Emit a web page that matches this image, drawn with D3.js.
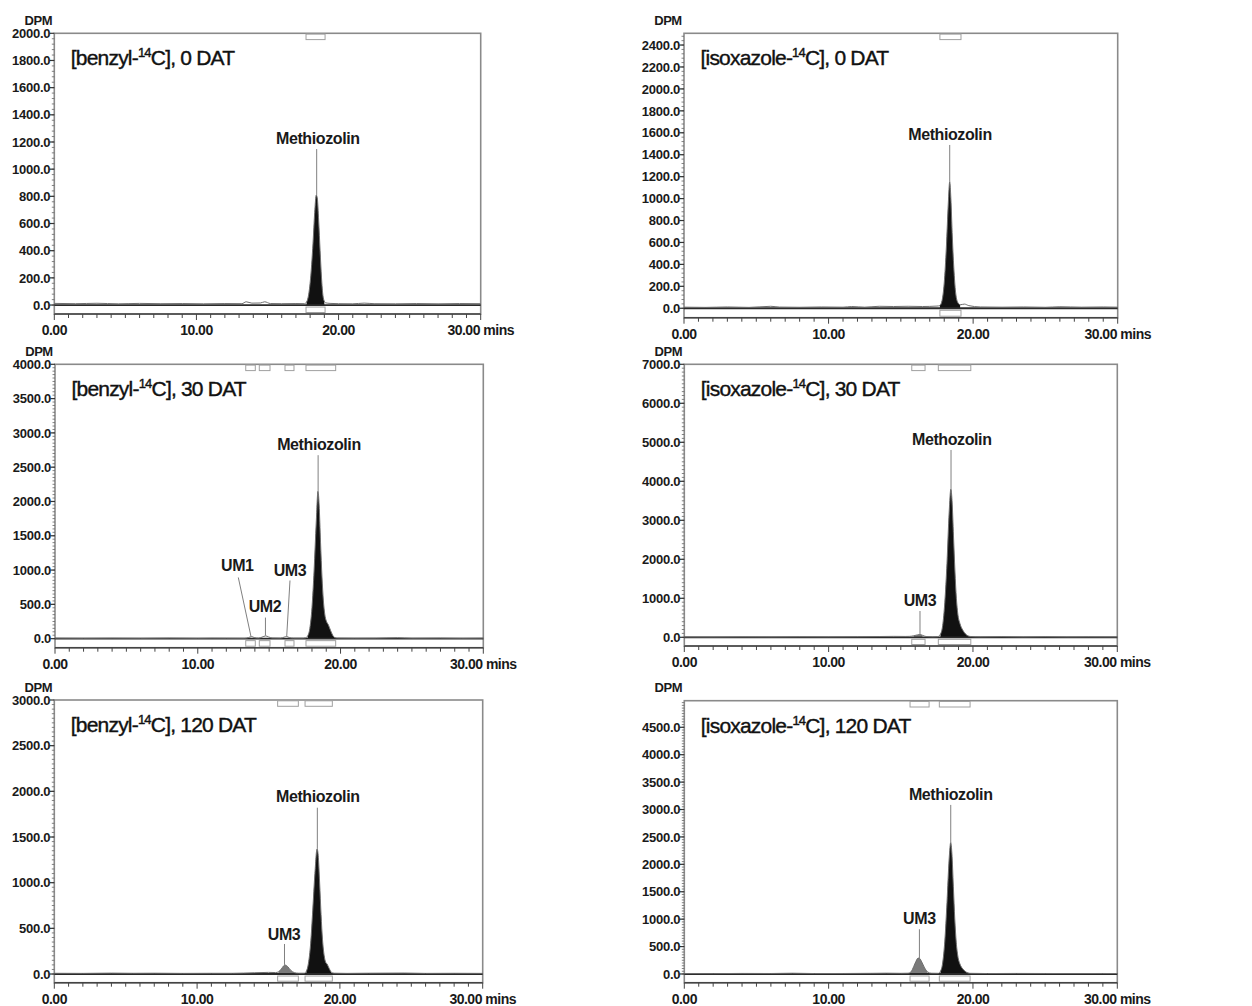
<!DOCTYPE html>
<html>
<head>
<meta charset="utf-8">
<script src="https://cdn.jsdelivr.net/npm/d3@7"></script>
<style>
  body { margin: 0; background: #fff; }
  svg { display: block; }
  text { font-family: "Liberation Sans", Arial, Helvetica, sans-serif; }
</style>
</head>
<body>
<script>
// Panel titles
const LABEL_NAMES = ["benzyl", "isoxazole", "benzyl", "isoxazole", "benzyl", "isoxazole"];
const LABEL_DAYS = ["0 DAT", "0 DAT", "30 DAT", "30 DAT", "120 DAT", "120 DAT"];

// Axes
const X_DOMAIN = [0, 30];
const X_TICKS = [0, 10, 20, 30];
const Y_TICK_MAX = [2000, 2400, 4000, 7000, 3000, 4500];
const Y_TICK_STEP = [200, 200, 500, 1000, 500, 500];
const Y_MINOR = [5, 5, 10, 10, 10, 10];
const Y_DOMAIN = [[-66, 2000], [-86, 2507], [-132, 4000], [-223, 7000], [-95, 3000], [-159, 4985]];

// Traces: [time (min), DPM]
const TRACE_1 = [[0,12],[1.5,10],[3,13],[4.5,9],[6,12],[7.5,10],[9,11],[10.5,9],[12,11],[13.2,10],[13.5,24],[13.9,14],[14.5,15],[14.8,24],[15.2,11],[16,10],[17,11],[17.6,10],
  [17.75,22],[17.9,80],[18.05,220],[18.2,450],[18.32,680],[18.43,810],[18.5,790],[18.6,620],[18.7,400],[18.8,200],[18.9,70],[19.0,28],[19.1,16],[19.4,12],
  [20,10],[21,9],[21.8,14],[22.5,10],[24,9],[25.5,11],[27,9],[28.5,11],[30,10]];
const TRACE_2 = [[0,10],[1.5,8],[3,12],[4.5,8],[6,18],[6.6,11],[8,9],[9.5,12],[11,10],[11.6,16],[12.5,10],[13.5,18],[14.5,16],[15.5,18],[16.5,16],[17.5,20],
  [17.7,25],[17.85,70],[18.0,230],[18.15,560],[18.28,950],[18.38,1154],[18.46,1000],[18.56,650],[18.68,330],[18.8,130],[18.95,50],[19.1,32],[19.4,38],[19.7,24],
  [20.5,12],[22,10],[23.5,12],[25,9],[26,14],[27.5,10],[29,12],[30,10]];
const TRACE_3 = [[0,8],[2,6],[4,8],[6,6],[8,9],[10,6],[11,8],[12,7],[13.3,6],[13.55,16],[13.78,30],[13.95,16],[14.25,8],[14.5,22],[14.76,40],[14.95,26],[15.2,10],
  [15.8,8],[16.05,22],[16.23,32],[16.4,16],[16.7,8],[17.4,8],
  [17.55,12],[17.7,40],[17.85,150],[18.0,450],[18.15,1000],[18.3,1700],[18.42,2150],[18.5,1950],[18.6,1400],[18.7,900],[18.8,550],[18.9,350],[19.0,260],[19.15,200],[19.3,120],[19.45,50],[19.6,16],[19.8,9],
  [21,7],[22.5,8],[24,14],[25,7],[27,9],[28.5,6],[30,8]];
const TRACE_4 = [[0,10],[2,8],[4,12],[6,10],[8,14],[10,12],[12,16],[13.5,20],[14.5,24],[15.3,22],
  [15.6,24],[15.9,40],[16.15,62],[16.33,70],[16.5,52],[16.75,20],[17.2,12],
  [17.55,16],[17.75,80],[17.9,300],[18.05,900],[18.2,1900],[18.35,3200],[18.47,3800],[18.55,3500],[18.65,2600],[18.75,1700],[18.85,1000],[18.95,600],[19.1,350],[19.3,180],[19.5,80],[19.8,22],
  [20.5,12],[22,18],[23.5,10],[25,16],[26.5,10],[28,12],[30,10]];
const TRACE_5 = [[0,8],[2,7],[4,10],[5.5,8],[7,9],[9,7],[11,8],[12.5,8],[14,14],[15,18],[15.5,16],
  [15.7,24],[15.9,55],[16.05,88],[16.16,98],[16.35,80],[16.55,42],[16.8,16],[17.1,9],
  [17.5,9],[17.65,30],[17.8,120],[17.95,330],[18.1,700],[18.25,1100],[18.4,1370],[18.48,1300],[18.58,1000],[18.68,650],[18.78,380],[18.9,200],[19.0,130],[19.1,110],[19.25,60],[19.4,20],[19.6,9],
  [20.5,7],[22,9],[24.5,11],[26,7],[28,8],[30,7]];
const TRACE_6 = [[0,8],[2,7],[4,10],[6,9],[7.5,14],[9,8],[11,9],[13,12],[14,15],[15,12],[15.5,14],
  [15.65,25],[15.8,80],[16.0,200],[16.2,290],[16.3,285],[16.45,220],[16.65,110],[16.85,40],[17.1,14],
  [17.6,12],[17.75,50],[17.9,200],[18.05,600],[18.2,1300],[18.35,2100],[18.46,2400],[18.54,2200],[18.64,1600],[18.74,1000],[18.84,580],[18.95,330],[19.1,180],[19.3,90],[19.5,40],[19.8,12],
  [21,8],[23,10],[25,9],[27,8],[29,9],[30,8]];

// Integration windows [start, end] (min)
const WINDOWS_1 = [[17.71, 19.05]];
const WINDOWS_2 = [[17.7, 19.16]];
const WINDOWS_3 = [[13.36, 14.03], [14.31, 15.06], [16.11, 16.74], [17.58, 19.66]];
const WINDOWS_4 = [[15.76, 16.68], [17.6, 19.85]];
const WINDOWS_5 = [[15.64, 17.09], [17.56, 19.47]];
const WINDOWS_6 = [[15.64, 16.96], [17.67, 19.8]];

// Filled peaks [start, end, kind]
const FILLS_1 = [[17.71, 19.05, "main"]];
const FILLS_2 = [[17.7, 19.16, "main"]];
const FILLS_3 = [[17.58, 19.66, "main"]];
const FILLS_4 = [[15.76, 16.68, "minor"], [17.6, 19.85, "main"]];
const FILLS_5 = [[15.64, 17.09, "minor"], [17.56, 19.47, "main"]];
const FILLS_6 = [[15.64, 16.96, "minor"], [17.67, 19.8, "main"]];

// Peak labels: [text, label t, label DPM, line t1, DPM1, line t2, DPM2]
const PEAKS_1 = [["Methiozolin", 18.54, 1230, 18.46, 1148, 18.46, 810]];
const PEAKS_2 = [["Methiozolin", 18.4, 1586, 18.38, 1489, 18.38, 1154]];
const PEAKS_3 = [["Methiozolin", 18.49, 2832, 18.43, 2675, 18.43, 2150],
  ["UM1", 12.77, 1077, 12.84, 892, 13.73, 29],
  ["UM2", 14.71, 468, 14.74, 307, 14.74, 45],
  ["UM3", 16.46, 994, 16.46, 848, 16.23, 35]];
const PEAKS_4 = [["Methozolin", 18.53, 5077, 18.48, 4803, 18.48, 3800], ["UM3", 16.33, 938, 16.33, 674, 16.33, 70]];
const PEAKS_5 = [["Methiozolin", 18.45, 1942, 18.42, 1821, 18.42, 1370], ["UM3", 16.09, 435, 16.12, 329, 16.12, 100]];
const PEAKS_6 = [["Methiozolin", 18.46, 3279, 18.46, 3084, 18.46, 2400], ["UM3", 16.29, 1016, 16.29, 816, 16.29, 290]];

const TRACES = [TRACE_1, TRACE_2, TRACE_3, TRACE_4, TRACE_5, TRACE_6];
const WINDOWS = [WINDOWS_1, WINDOWS_2, WINDOWS_3, WINDOWS_4, WINDOWS_5, WINDOWS_6];
const FILLS = [FILLS_1, FILLS_2, FILLS_3, FILLS_4, FILLS_5, FILLS_6];
const PEAKS = [PEAKS_1, PEAKS_2, PEAKS_3, PEAKS_4, PEAKS_5, PEAKS_6];

/* Layout: plot frame of each panel in page pixels */
const FRAMES = [
  { left: 54.3, right: 480.7, top: 33.3, bottom: 314 },
  { left: 684, right: 1117.7, top: 33.3, bottom: 317.7 },
  { left: 55, right: 483.3, top: 364.3, bottom: 647.7 },
  { left: 684.3, right: 1117.3, top: 364.3, bottom: 646 },
  { left: 54.3, right: 482.7, top: 700, bottom: 982.7 },
  { left: 684.3, right: 1117.3, top: 700.7, bottom: 982.7 }
];
const FILL_COLOR = { main: "#111", minor: "#7a7a7a" };

const svg = d3.select("body").append("svg")
  .attr("width", 1252)
  .attr("height", 1006);

FRAMES.forEach((F, i) => {
  const x = d3.scaleLinear().domain(X_DOMAIN).range([F.left, F.right]);
  const y = d3.scaleLinear().domain(Y_DOMAIN[i]).range([F.bottom, F.top]);
  const g = svg.append("g");

  // Frame
  g.append("rect")
    .attr("x", F.left).attr("y", F.top)
    .attr("width", F.right - F.left).attr("height", F.bottom - F.top)
    .attr("fill", "none").attr("stroke", "#8a8a8a").attr("stroke-width", 1.6);

  // Y axis ticks
  const yTicks = d3.range(0, Y_TICK_MAX[i] + 1, Y_TICK_STEP[i]);
  const minorStep = Y_TICK_STEP[i] / Y_MINOR[i];
  const yMinor = d3.range(0, Y_DOMAIN[i][1], minorStep);
  g.selectAll(".ymin").data(yMinor).enter().append("line")
    .attr("x1", F.left - 2.5).attr("x2", F.left)
    .attr("y1", d => y(d)).attr("y2", d => y(d))
    .attr("stroke", "#666").attr("stroke-width", 0.8);
  g.selectAll(".ymaj").data(yTicks).enter().append("line")
    .attr("x1", F.left - 4.5).attr("x2", F.left)
    .attr("y1", d => y(d)).attr("y2", d => y(d))
    .attr("stroke", "#333").attr("stroke-width", 1.2);
  g.selectAll(".ylab").data(yTicks).enter().append("text")
    .attr("x", F.left - 4).attr("y", d => y(d)).attr("dy", "0.36em")
    .attr("text-anchor", "end")
    .style("font-size", "13px").style("font-weight", "bold").style("letter-spacing", "-0.25px")
    .attr("fill", "#1a1a1a")
    .text(d => d3.format(".1f")(d));

  g.append("text")
    .attr("x", F.left - 16).attr("y", F.top - 8.5)
    .attr("text-anchor", "middle")
    .style("font-size", "13px").style("font-weight", "bold").style("letter-spacing", "-0.5px")
    .attr("fill", "#1a1a1a")
    .text("DPM");

  // X axis line and ticks
  g.append("line")
    .attr("x1", F.left).attr("x2", F.right)
    .attr("y1", F.bottom).attr("y2", F.bottom)
    .attr("stroke", "#444").attr("stroke-width", 1.6);
  g.selectAll(".xmin").data(d3.range(X_DOMAIN[0], X_DOMAIN[1] + 1, 1)).enter().append("line")
    .attr("x1", d => x(d)).attr("x2", d => x(d))
    .attr("y1", F.bottom).attr("y2", d => F.bottom + (d % 10 === 0 ? 6 : 4))
    .attr("stroke", "#444").attr("stroke-width", 1);
  g.selectAll(".xlab").data(X_TICKS).enter().append("text")
    .attr("x", d => x(d)).attr("y", F.bottom + 21)
    .attr("text-anchor", "middle")
    .style("font-size", "14px").style("font-weight", "bold").style("letter-spacing", "-0.5px")
    .attr("fill", "#1a1a1a")
    .text(d => d3.format(".2f")(d) + (d === X_DOMAIN[1] ? " mins" : ""));

  // Integration brackets
  g.selectAll(".wtop").data(WINDOWS[i]).enter().append("rect")
    .attr("x", d => x(d[0])).attr("y", F.top + 0.8)
    .attr("width", d => x(d[1]) - x(d[0])).attr("height", 5.5)
    .attr("fill", "none").attr("stroke", "#a0a0a0").attr("stroke-width", 1);
  g.selectAll(".wbot").data(WINDOWS[i]).enter().append("rect")
    .attr("x", d => x(d[0])).attr("y", y(0) + 2)
    .attr("width", d => x(d[1]) - x(d[0])).attr("height", F.bottom - y(0) - 3.5)
    .attr("fill", "none").attr("stroke", "#a0a0a0").attr("stroke-width", 1);

  // Filled peaks
  const area = d3.area()
    .x(d => x(d[0])).y0(y(0)).y1(d => y(d[1]))
    .curve(d3.curveMonotoneX);
  g.selectAll(".fill").data(FILLS[i]).enter().append("path")
    .attr("d", f => area(TRACES[i].filter(p => p[0] >= f[0] && p[0] <= f[1])))
    .attr("fill", f => FILL_COLOR[f[2]]);

  // Zero baseline
  g.append("line")
    .attr("x1", F.left).attr("x2", F.right)
    .attr("y1", y(0)).attr("y2", y(0))
    .attr("stroke", "#2a2a2a").attr("stroke-width", 1.8);

  // Trace
  const line = d3.line()
    .x(d => x(d[0])).y(d => y(d[1]))
    .curve(d3.curveMonotoneX);
  g.append("path")
    .attr("d", line(TRACES[i]))
    .attr("fill", "none").attr("stroke", "#6e6e6e").attr("stroke-width", 1);

  // Peak labels
  PEAKS[i].forEach(p => {
    g.append("line")
      .attr("x1", x(p[3])).attr("y1", y(p[4]))
      .attr("x2", x(p[5])).attr("y2", y(p[6]))
      .attr("stroke", "#808080").attr("stroke-width", 1);
    g.append("text")
      .attr("x", x(p[1])).attr("y", y(p[2])).attr("dy", "0.36em")
      .attr("text-anchor", "middle")
      .style("font-size", "16px").style("font-weight", "bold").style("letter-spacing", "-0.4px")
      .attr("fill", "#1a1a1a")
      .text(p[0]);
  });

  // Title
  const title = g.append("text")
    .attr("x", F.left + 16.5).attr("y", F.top + 32)
    .style("font-size", "21px").style("letter-spacing", "-0.8px")
    .attr("fill", "#111").attr("stroke", "#111").attr("stroke-width", 0.4);
  title.append("tspan").text("[" + LABEL_NAMES[i] + "-");
  title.append("tspan").attr("dy", -8).style("font-size", "13px").text("14");
  title.append("tspan").attr("dy", 8).text("C], " + LABEL_DAYS[i]);
});
</script>
</body>
</html>
